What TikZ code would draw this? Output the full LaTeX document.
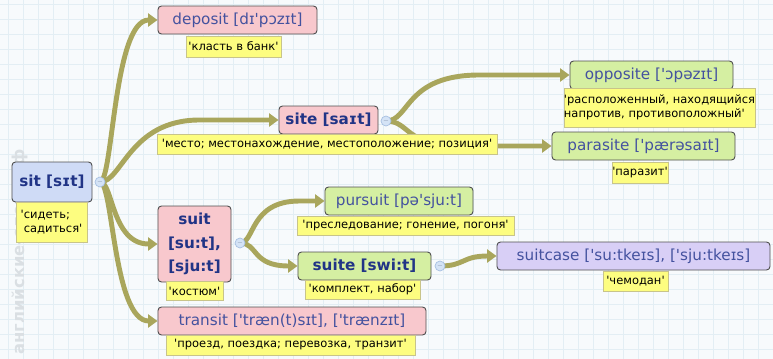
\documentclass[tikz,border=0pt]{standalone}
\usepackage{fontspec}
\usepackage{xcolor}
\usepackage{tikz}
\usetikzlibrary{arrows.meta, calc}
\newfontfamily\wordfont{DejaVu Sans}
\newfontfamily\glossfont{DejaVu Sans}
\definecolor{pagebg}{HTML}{F7FAFC}
\definecolor{gridline}{HTML}{E3EEF4}
\definecolor{branchcol}{HTML}{A9A65C}
\definecolor{boxline}{HTML}{505050}
\definecolor{wordblue}{HTML}{44529F}
\definecolor{keyblue}{HTML}{213486}
\definecolor{pinkfill}{HTML}{F8C8CD}
\definecolor{greenfill}{HTML}{D5EFA2}
\definecolor{bluefill}{HTML}{CFDBF6}
\definecolor{violetfill}{HTML}{D8CFF6}
\definecolor{glossfill}{HTML}{FDFD80}
\definecolor{glossline}{HTML}{C8C48A}
\definecolor{togglefill}{HTML}{D4E3F6}
\definecolor{toggleline}{HTML}{A7C0E2}
\definecolor{watermark}{HTML}{DADFE3}
\pgfdeclarelayer{backdrop}
\pgfdeclarelayer{background}
\pgfsetlayers{backdrop,background,main}

\begin{document}
\begin{tikzpicture}[x=0.03cm, y=-0.03cm,
  word/.style={draw=boxline, line width=0.8pt, rounded corners=3pt, inner sep=0pt,
    text=wordblue, font=\wordfont\fontsize{13}{15}\selectfont, minimum height=0.84cm},
  keyword/.style={word, text=keyblue, font=\wordfont\bfseries\fontsize{13}{20}\selectfont},
  gloss/.style={draw=glossline, fill=glossfill, line width=0.4pt, inner sep=0pt,
    minimum height=0.6cm, font=\glossfont\fontsize{9.8}{12}\selectfont},
  toggle/.style={circle, draw=toggleline, fill=togglefill, line width=0.6pt,
    minimum size=0.3cm, inner sep=0pt, text=toggleline!70!black, font=\tiny},
  branch/.style={draw=branchcol, line width=4.2pt, -{Triangle[length=8pt, width=11pt]}}]

  % Фон
  \useasboundingbox (0,0) rectangle (773,359);
  \begin{pgfonlayer}{backdrop}
    \fill[pagebg] (0,0) rectangle (773,359);
    \foreach \x in {8,23,...,773} \draw[gridline, line width=0.5pt] (\x,0) -- (\x,359);
    \foreach \y in {4,19,...,359} \draw[gridline, line width=0.5pt] (0,\y) -- (773,\y);
    \node[rotate=90, text=watermark, font=\wordfont\bfseries\fontsize{14}{14}\selectfont]
      (wm) at (20,252) {английские-слова.рф};
  \end{pgfonlayer}

  % Корень
  \node[keyword, fill=bluefill, minimum width=2.4cm, minimum height=1.2cm] (sit) at (52,182) {sit [sɪt]};
  \node[gloss, minimum width=2.13cm, minimum height=1.2cm, align=left] (sitg) at (51.5,222)
    {'сидеть;\\\hphantom{'}садиться'};
  \node[toggle] (sitt) at (100,182) {$-$};

  % Первый уровень
  \node[word, fill=pinkfill, minimum width=4.77cm] (deposit) at (237.5,20) {deposit [dɪ'pɔzɪt]};
  \node[gloss, minimum width=2.85cm, minimum height=0.63cm] (depositg) at (233.5,46.5) {'класть в банк'};

  \node[keyword, fill=pinkfill, minimum width=2.97cm] (site) at (328.5,120) {site [saɪt]};
  \node[gloss, minimum width=10.2cm] (siteg) at (327,144) {'место; местонахождение, местоположение; позиция'};
  \node[toggle] (sitet) at (386,121) {$-$};

  \node[keyword, fill=pinkfill, minimum width=2.19cm, minimum height=2.28cm, align=center] (suit) at (194.5,244)
    {suit\\{}[su:t],\\{}[sju:t]};
  \node[gloss, minimum width=1.71cm, minimum height=0.57cm] (suitg) at (194.5,291) {'костюм'};
  \node[toggle] (suitt) at (240,243) {$-$};

  \node[word, fill=pinkfill, minimum width=8.04cm] (transit) at (292,321) {transit ['træn(t)sɪt], ['trænzɪt]};
  \node[gloss, minimum width=7.47cm] (transitg) at (290.5,345) {'проезд, поездка; перевозка, транзит'};

  % Второй уровень
  \node[word, fill=greenfill, minimum width=4.89cm] (opposite) at (651.5,75) {opposite ['ɔpəzɪt]};
  \node[gloss, minimum width=5.61cm, minimum height=1.17cm, align=left] (oppositeg) at (659.5,107.5)
    {'расположенный, находящийся\\напротив, противоположный'};

  \node[word, fill=greenfill, minimum width=5.49cm] (parasite) at (643.5,146) {parasite ['pærəsaɪt]};
  \node[gloss, minimum width=1.68cm, minimum height=0.63cm] (parasiteg) at (640,172.5) {'паразит'};

  \node[word, fill=greenfill, minimum width=4.44cm] (pursuit) at (399,201) {pursuit [pə'sju:t]};
  \node[gloss, minimum width=6.51cm, minimum height=0.57cm] (pursuitg) at (405.5,225.5) {'преследование; гонение, погоня'};

  \node[keyword, fill=greenfill, minimum width=3.99cm] (suite) at (364.5,266) {suite [swi:t]};
  \node[gloss, minimum width=3.45cm, minimum height=0.57cm] (suiteg) at (362.5,289.5) {'комплект, набор'};
  \node[toggle] (suitet) at (440,266) {$-$};

  % Третий уровень
  \node[word, fill=violetfill, minimum width=8.19cm] (suitcase) at (633.5,256) {suitcase ['su:tkeɪs], ['sju:tkeɪs]};
  \node[gloss, minimum width=1.95cm] (suitcaseg) at (635.5,281) {'чемодан'};

  % Связи
  \begin{pgfonlayer}{background}
    \draw[branch] (sitt.center) .. controls +(13,0) and +(-44,0) .. (deposit.west);
    \draw[branch] (sitt.center) .. controls +(22,0) and +(-70,0) .. ($(site.west)+(-79,0)$) -- (site.west);
    \draw[branch] (sitt.center) .. controls +(13,0) and +(-46,0) .. (suit.west);
    \draw[branch] (sitt.center) .. controls +(13,0) and +(-44,0) .. (transit.west);
    \draw[branch] (sitet.center) .. controls +(24,0) and +(-75,0) .. ($(opposite.west)+(-90,0)$) -- (opposite.west);
    \draw[branch] (sitet.center) .. controls +(24,0) and +(-55,0) .. ($(parasite.west)+(-92,0)$) -- (parasite.west);
    \draw[branch] (suitt.center) .. controls +(15,0) and +(-50,0) .. ($(pursuit.west)+(-25,0)$) -- (pursuit.west);
    \draw[branch] (suitt.center) .. controls +(18,0) and +(-46,0) .. (suite.west);
    \draw[branch] (suitet.center) .. controls +(25,0) and +(-35,0) .. (suitcase.west);
  \end{pgfonlayer}
\end{tikzpicture}
\end{document}
